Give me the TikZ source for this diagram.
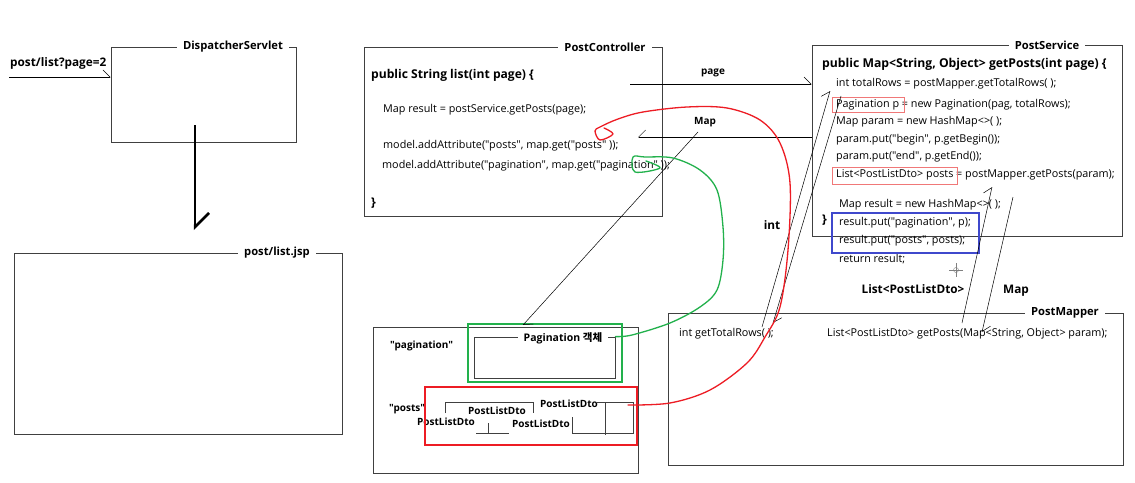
\documentclass[tikz,border=0pt]{standalone}
\usepackage{fontspec}
\setmainfont{Open Sans}[Ligatures=TeXOff]
\newfontfamily\krfont{Noto Sans CJK KR}
\usetikzlibrary{arrows.meta}
\definecolor{redink}{RGB}{237,28,36}
\definecolor{greenink}{RGB}{34,177,76}
\definecolor{blueink}{RGB}{63,72,204}
\definecolor{pinkink}{RGB}{240,120,120}

\begin{document}
\begin{tikzpicture}[
    x=1pt, y=-1pt,
    every node/.style={font=\fontsize{10.8}{12}\selectfont},
    panel/.style={draw=black!75, line width=0.8pt, inner sep=0pt, rectangle},
    ttl/.style={fill=white, font=\bfseries\fontsize{11.2}{13}\selectfont,
                inner xsep=6pt, inner ysep=1pt},
    code/.style={anchor=west, inner sep=0pt},
    head/.style={code, font=\bfseries\fontsize{12.1}{14}\selectfont},
    lbl/.style={inner sep=0pt, font=\bfseries\fontsize{10}{12}\selectfont},
    biglbl/.style={lbl, font=\bfseries\fontsize{11.8}{13}\selectfont},
    hl/.style={line width=1.6pt, inner sep=0pt, rectangle},
    link/.style={line width=0.5pt, -{Straight Barb[harpoon, length=7pt, width=14pt]}},
    linkr/.style={line width=0.5pt, -{Straight Barb[harpoon, swap, length=7pt, width=14pt]}},
    thickarrow/.style={line width=2.5pt, -{Straight Barb[harpoon, length=14pt, width=28pt]}},
    pen/.style={line width=1.3pt, line cap=round, line join=round}
]
    \path[use as bounding box, fill=white] (0,0) rectangle (1135,482);

    \node[panel, minimum width=185pt, minimum height=95pt] (ds) at (203.5,94.5) {};
    \node[ttl] (dstitle) at (233,47) {DispatcherServlet};
    \node[code, font=\bfseries\fontsize{11.8}{13}\selectfont] (req) at (10,63) {post/list?page=2};
    \coordinate (reqin) at (9,77);
    \draw[link] (reqin) -- (reqin -| ds.west);

    \coordinate (fwdfrom) at (195,125);
    \coordinate (fwdto) at (195,230);
    \draw[thickarrow] (fwdfrom) -- (fwdto);

    \node[panel, minimum width=328pt, minimum height=181pt] (jsp) at (178,343.5) {};
    \node[ttl] (jsptitle) at (277,253) {post/list.jsp};

    \node[panel, minimum width=298pt, minimum height=169pt] (ctrl) at (513,131.5) {};
    \node[ttl] (ctrltitle) at (605,47) {PostController};
    \node[head] (ctrlhead) at (371,75) {public String list(int page) \{};
    \node[code] (ctrl1) at (383,110) {Map result = postService.getPosts(page);};
    \node[code] (ctrl2) at (383,146) {model.addAttribute("posts", map.get("posts" ));};
    \node[code] (ctrl3) at (382,166) {model.addAttribute("pagination", map.get("pagination" ));};
    \node[head] (ctrlend) at (371,203) {\}};

    \node[panel, minimum width=310pt, minimum height=191pt] (svc) at (967,140.5) {};
    \node[ttl] (svctitle) at (1047,45) {PostService};
    \node[head, font=\bfseries\fontsize{12.2}{14}\selectfont] (svchead) at (822,64)
        {public Map<String, Object> getPosts(int page) \{};
    \node[code] (svc1) at (836,84) {int totalRows = postMapper.getTotalRows( );};
    \node[code] (svc2) at (836,105) {Pagination p = new Pagination(pag, totalRows);};
    \node[code] (svc3) at (836,122) {Map param = new HashMap<>( );};
    \node[code] (svc4) at (836,140) {param.put("begin", p.getBegin());};
    \node[code] (svc5) at (836,157) {param.put("end", p.getEnd());};
    \node[code] (svc6) at (836,175) {List<PostListDto> posts = postMapper.getPosts(param);};
    \node[code] (svc7) at (839,205) {Map result = new HashMap<>( );};
    \node[head] (svcend) at (822,220) {\}};
    \node[code] (svc8) at (839,223) {result.put("pagination", p);};
    \node[code] (svc9) at (839,241) {result.put("posts", posts);};
    \node[code] (svc10) at (839,259) {return result;};
    \node[hl, draw=pinkink, line width=0.8pt, minimum width=72pt, minimum height=15pt] (pagvar) at (868,104.5) {};
    \node[hl, draw=pinkink, line width=0.8pt, minimum width=125pt, minimum height=17pt] (listvar) at (894.5,175.5) {};
    \node[hl, draw=blueink, minimum width=147pt, minimum height=40pt] (putbox) at (905.5,233) {};

    \node[panel, minimum width=455pt, minimum height=152pt] (mapper) at (895.5,389) {};
    \node[ttl] (mappertitle) at (1065,313) {PostMapper};
    \node[code] (mapper1) at (679,334) {int getTotalRows( );};
    \node[code] (mapper2) at (827,334) {List<PostListDto> getPosts(Map<String, Object> param);};

    \node[panel, minimum width=265pt, minimum height=146pt] (model) at (505.5,400) {};
    \node[lbl, anchor=west] (pagkey) at (390,346) {"pagination"};
    \node[lbl, anchor=west] (postskey) at (389,409) {"posts"};
    \node[hl, draw=greenink, minimum width=154pt, minimum height=58pt] (pagsel) at (545,353) {};
    \node[panel, minimum width=141pt, minimum height=41pt] (pagobj) at (544.5,357.5) {};
    \node[ttl, font=\bfseries\fontsize{10.5}{12}\selectfont] (pagobjtitle) at (563,338) {Pagination {\krfont 객체}};
    \draw[black!75, line width=0.8pt] (445,413) -- (445,402) -- (533,402) -- (533,413);
    \draw[black!75, line width=0.8pt] (597,402) -- (633,402) -- (633,433) -- (572,433) -- (572,417);
    \draw[black!75, line width=0.8pt] (605,402) -- (605,435);
    \draw[black!75, line width=0.8pt] (488,423) -- (488,433) (476,433) -- (509,433);
    \node[lbl] (dto1) at (497,411) {PostListDto};
    \node[lbl] (dto2) at (569,404) {PostListDto};
    \node[lbl] (dto3) at (446,422) {PostListDto};
    \node[lbl] (dto4) at (541,424) {PostListDto};
    \node[hl, draw=redink, minimum width=212pt, minimum height=58pt] (postssel) at (531,416) {};

    \node[lbl] (pagelbl) at (713,73) {page};
    \node[lbl] (maplbl) at (705,122) {Map};
    \node[biglbl] (intlbl) at (772,225) {int};
    \node[biglbl] (listlbl) at (913,289) {List<PostListDto>};
    \node[biglbl] (paramlbl) at (1016,291) {Map};

    \coordinate (pagefrom) at (630,84);
    \draw[link] (pagefrom) -- (pagefrom -| svc.west);
    \coordinate (mapto) at (638,137);
    \draw[linkr] (mapto -| svc.west) -- (mapto);
    \coordinate (mapfrom) at (698,132);
    \coordinate (mapin) at (523,325);
    \draw[link] (mapfrom) -- (mapin);
    \coordinate (rowscall) at (841,96);
    \coordinate (rowsin) at (773,323);
    \draw[link] (rowscall) -- (rowsin);
    \coordinate (rowsret) at (762,327);
    \coordinate (rowsout) at (830,91);
    \draw[link] (rowsret) -- (rowsout);
    \coordinate (listret) at (962,323);
    \coordinate (listout) at (992,187);
    \draw[link] (listret) -- (listout);
    \coordinate (paramfrom) at (1013,197);
    \coordinate (paramin) at (982,332);
    \draw[link] (paramfrom) -- (paramin);

    \draw[gray] (949,270) -- (963,270) (956,263) -- (956,277);
    \draw[gray] (956,270) circle (2.5pt);

    \coordinate (redfrom) at (628,405);
    \draw[pen, redink] plot[smooth, tension=0.55] coordinates {(redfrom) (670,403) (710,390)
        (747,363) (765,337) (780,307) (788,250) (790,183) (780,143) (760,120) (727,108)
        (687,107) (643,112) (618,119) (600,127) (595,131) (600,140) (613,134) (604,128)};
    \draw[pen, greenink] plot[smooth, tension=0.55] coordinates {(pagobj.north east) (632,335)
        (670,323) (700,307) (717,290) (723,260) (723,227) (717,190) (700,170) (673,158)
        (645,157) (633,157) (635,172) (660,168) (646,161)};
\end{tikzpicture}
\end{document}
